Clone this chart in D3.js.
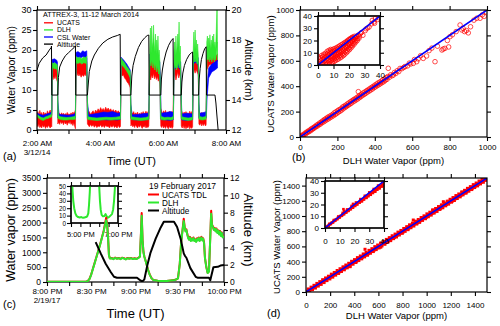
<!DOCTYPE html>
<html>
<head>
<meta charset="utf-8">
<script src="https://cdn.jsdelivr.net/npm/d3@7/dist/d3.min.js"></script>
<style>
html,body{margin:0;padding:0;background:#fff;}
svg{display:block;}
</style>
</head>
<body>
<svg id="chart" width="500" height="326"></svg>
<script>
// ================= DATA =================
// Panel (a) ATTREX-3 time series: [hour UT, low, high] in ppm
const aUCATS = [
[2.00,1.2,4.0],[2.03,0.8,4.6],[2.06,1.5,3.6],[2.09,0.6,4.9],[2.12,1.0,3.8],[2.15,0.5,4.4],[2.18,1.3,3.5],[2.21,0.7,4.5],[2.24,1.1,3.9],[2.27,0.4,4.3],[2.30,1.0,3.7],[2.33,0.6,4.8],[2.36,1.2,4.0],[2.39,0.8,4.6],[2.42,0.5,5.0],[2.45,1.0,4.2],[2.47,0.8,5.2],
[2.48,13.0,16.8],[2.51,12.6,16.0],[2.54,13.4,15.8],[2.57,12.8,16.4],[2.60,13.6,15.6],[2.63,12.4,16.2],[2.65,12.0,15.0],
[2.66,1.5,6.0],[2.69,2.0,4.4],[2.72,1.4,4.0],[2.75,2.2,3.8],[2.78,1.6,4.3],[2.81,2.0,3.9],[2.84,1.3,4.2],[2.87,2.1,3.7],[2.90,1.5,4.1],[2.93,1.9,3.8],[2.96,1.2,4.4],[2.99,2.0,3.9],[3.02,1.6,4.0],[3.05,2.2,3.8],[3.08,1.4,4.3],[3.11,1.8,3.9],[3.14,1.1,4.5],[3.17,1.9,4.0],[3.20,0.8,4.6],[3.22,0.3,5.0],
[3.24,14.5,17.8],[3.27,13.6,17.2],[3.30,14.2,16.8],[3.33,13.5,17.4],[3.36,14.0,16.6],[3.40,13.2,17.0],[3.44,13.8,16.5],[3.48,13.4,17.2],[3.52,14.0,16.8],[3.56,13.5,17.5],[3.58,14.5,17.0],
[3.60,1.5,6.0],[3.63,1.2,4.2],[3.66,0.8,4.6],[3.70,1.4,3.9],[3.74,0.9,4.4],[3.78,1.3,4.8],[3.82,0.7,4.1],[3.86,1.2,5.0],[3.90,0.6,4.5],[3.94,1.0,5.3],[3.98,0.8,4.7],[4.02,1.3,5.6],[4.06,0.7,4.9],[4.10,1.1,5.4],[4.14,0.6,4.8],[4.18,1.2,5.7],[4.22,0.8,5.0],[4.26,1.0,5.5],[4.30,0.5,4.9],[4.34,1.1,5.3],[4.38,0.7,4.6],[4.42,1.2,5.1],[4.46,0.6,4.5],[4.50,1.0,5.0],[4.54,0.5,4.4],[4.58,1.1,4.8],[4.62,0.6,4.3],[4.65,0.9,4.6],
[4.67,14.0,17.2],[4.70,13.5,16.6],[4.74,13.8,16.2],[4.78,13.0,15.8],[4.82,12.6,15.2],[4.86,12.0,14.8],[4.90,11.6,14.2],[4.94,11.0,13.6],[4.96,10.5,13.0],
[4.98,1.0,5.5],[5.01,1.4,4.4],[5.04,0.8,4.0],[5.07,1.2,4.6],[5.10,0.6,3.8],[5.13,1.3,4.3],[5.16,0.9,3.9],[5.19,0.5,4.5],[5.22,1.1,3.7],[5.25,0.7,4.2],[5.28,1.3,3.8],[5.31,0.8,4.4],[5.34,0.4,4.0],[5.37,1.0,4.6],[5.40,0.7,3.9],[5.43,1.2,4.3],[5.46,0.5,4.7],[5.49,0.9,4.0],[5.52,0.6,4.5],[5.55,1.0,5.0],
[5.58,13.5,17.5],[5.61,12.5,16.5],[5.64,13.8,18.2],[5.67,13.0,16.8],[5.70,14.2,17.6],[5.73,12.8,16.2],[5.76,13.6,17.8],[5.79,12.6,16.6],[5.82,13.4,17.2],[5.85,12.2,15.8],[5.88,13.0,16.4],[5.90,11.5,15.0],
[5.93,1.0,5.5],[5.96,0.6,4.6],[5.99,1.2,4.0],[6.02,0.5,4.8],[6.05,1.0,4.2],[6.08,0.4,4.9],[6.11,1.1,3.9],[6.14,0.6,4.5],[6.17,0.3,4.1],[6.20,1.0,4.7],[6.23,0.5,4.0],[6.26,0.9,4.6],[6.29,0.4,4.2],[6.32,0.8,4.8],
[6.35,13.0,16.5],[6.38,14.0,17.5],[6.41,12.5,16.0],[6.44,13.5,17.8],[6.47,14.5,18.0],[6.50,13.0,16.8],[6.53,14.0,17.2],[6.56,13.0,16.0],
[6.58,1.0,5.0],[6.61,0.5,4.4],[6.64,1.2,3.8],[6.67,0.4,4.5],[6.70,1.0,4.0],[6.73,0.3,4.6],[6.76,0.9,3.9],[6.79,0.5,4.3],[6.82,1.1,4.0],[6.85,0.3,4.7],[6.88,0.8,4.1],[6.91,0.4,4.5],[6.94,0.8,4.9],
[6.96,14.5,17.8],[6.99,15.0,18.0],[7.02,14.2,17.5],[7.05,15.2,18.2],[7.08,14.5,17.6],[7.11,14.0,17.0],[7.12,13.5,16.5],
[7.14,1.5,5.0],[7.17,1.2,4.2],[7.20,1.8,3.9],[7.23,1.0,4.4],[7.26,1.6,3.8],[7.29,1.1,4.3],[7.32,1.7,4.0],[7.35,1.0,4.5],[7.37,1.4,4.2],
[7.39,15.0,17.5],[7.45,16.0,18.0],[7.50,16.5,18.5],[7.55,16.0,18.2],[7.60,16.8,18.6],[7.65,16.5,18.4],[7.70,17.0,18.8],[7.73,17.2,19.0]
];
const aDLH = [
[2.00,3.3,3.9],[2.05,3.0,3.6],[2.10,2.7,3.3],[2.15,2.5,3.1],[2.20,2.4,3.0],[2.25,2.6,3.2],[2.30,2.8,3.4],[2.35,2.9,3.5],[2.40,3.1,3.7],[2.45,3.2,3.9],[2.47,3.5,4.5],
[2.48,15.0,16.8],[2.52,15.6,16.6],[2.56,15.2,16.9],[2.60,15.4,16.5],[2.64,15.0,16.4],[2.65,14.0,16.0],
[2.66,3.0,8.0],[2.68,2.8,3.6],[2.75,2.6,3.3],[2.85,2.5,3.2],[2.95,2.5,3.1],[3.05,2.6,3.2],[3.15,2.6,3.3],[3.22,2.7,3.5],
[3.24,16.8,18.4],[3.30,16.6,18.0],[3.36,16.9,18.2],[3.42,16.5,17.8],[3.48,16.8,18.3],[3.54,16.7,18.0],[3.58,16.5,18.5],
[3.60,2.8,8.0],[3.62,2.6,3.3],[3.75,2.5,3.1],[3.90,2.4,3.0],[4.05,2.5,3.1],[4.20,2.6,3.2],[4.35,2.5,3.1],[4.50,2.6,3.2],[4.65,2.7,3.4],
[4.67,16.5,18.0],[4.72,16.0,17.4],[4.78,15.5,16.8],[4.84,14.8,16.0],[4.90,14.0,15.4],[4.96,13.0,14.6],
[4.98,2.8,7.0],[5.00,2.6,3.3],[5.15,2.5,3.1],[5.30,2.4,3.0],[5.45,2.5,3.1],[5.55,2.6,3.4],
[5.58,16.0,20.0],[5.60,17.0,25.5],[5.62,16.0,19.0],[5.64,17.5,26.0],[5.66,16.5,20.5],[5.68,15.5,22.0],[5.70,17.0,26.2],[5.72,16.0,19.5],[5.74,15.0,21.5],[5.76,16.5,24.0],[5.78,15.5,19.0],[5.80,14.5,22.5],[5.82,16.0,19.5],[5.84,15.0,23.5],[5.86,14.0,18.5],[5.88,15.0,20.0],[5.90,13.5,17.0],
[5.92,2.8,8.0],[5.94,2.6,3.4],[6.05,2.5,3.1],[6.15,2.6,3.2],[6.25,2.5,3.1],[6.33,2.7,3.4],
[6.35,15.0,19.5],[6.37,16.5,22.0],[6.39,15.5,18.5],[6.41,16.0,23.5],[6.43,15.0,19.0],[6.45,16.5,21.0],[6.47,15.5,24.0],[6.49,17.0,20.5],[6.51,16.0,27.0],[6.53,15.5,19.0],[6.55,16.0,21.0],[6.56,14.0,17.0],
[6.58,2.8,7.0],[6.60,2.6,3.3],[6.70,2.5,3.1],[6.80,2.4,3.0],[6.90,2.5,3.1],[6.94,2.6,3.3],
[6.96,16.0,20.0],[6.98,17.5,24.5],[7.00,17.0,19.5],[7.02,18.0,25.0],[7.04,17.0,20.0],[7.06,17.5,22.5],[7.08,16.5,19.0],[7.10,17.0,21.5],[7.12,16.0,18.5],
[7.14,2.8,6.0],[7.16,2.6,3.4],[7.25,2.5,3.2],[7.32,2.6,3.3],[7.37,2.7,3.5],
[7.39,17.0,22.0],[7.41,18.0,23.5],[7.43,17.5,20.5],[7.45,18.0,23.0],[7.47,17.0,21.0],[7.49,18.5,23.8],[7.51,17.5,20.0],[7.53,18.0,22.5],[7.55,17.0,20.5],[7.57,18.0,23.5],[7.59,17.5,21.0],[7.61,18.5,24.0],[7.63,17.0,20.5],[7.65,18.0,22.0],[7.67,17.5,20.0],[7.69,18.5,24.5],[7.71,20.0,30.0],[7.72,22.0,30.0],[7.73,17.5,20.0]
];
const aCSL = [
[2.00,3.5,4.2],[2.10,3.2,3.9],[2.20,3.0,3.7],[2.30,3.3,4.0],[2.40,3.5,4.2],[2.47,3.8,4.6],
[2.48,16.5,17.6],[2.55,16.8,17.8],[2.62,16.5,17.5],[2.65,15.5,17.0],
[2.66,3.0,7.5],[2.70,2.9,3.9],[2.85,2.8,3.8],[3.00,2.8,3.7],[3.15,2.9,3.9],[3.22,3.0,4.2],
[3.24,18.0,19.4],[3.30,18.2,19.6],[3.38,18.0,19.2],[3.45,18.3,19.8],[3.52,18.1,19.5],[3.58,18.0,19.8],
[3.60,3.0,7.0],[3.65,2.7,3.8],[3.80,2.6,4.0],[3.95,2.5,4.2],[4.10,2.6,4.5],[4.25,2.5,4.4],[4.40,2.6,4.6],[4.55,2.5,4.2],[4.65,2.7,4.3],
[4.67,17.0,18.2],[4.75,16.5,17.5],[4.85,15.5,16.5],[4.96,13.5,15.0],
[4.98,3.0,6.5],[5.02,2.6,3.8],[5.20,2.5,3.9],[5.40,2.5,4.1],[5.55,2.7,4.2],
[5.58,17.0,19.0],[5.70,17.5,19.5],[5.80,16.0,18.5],[5.90,14.5,17.0],
[5.92,3.0,12.0],[5.94,2.6,4.2],[6.10,2.5,4.4],[6.25,2.4,4.6],[6.33,2.6,4.3],
[6.35,15.0,17.5],[6.45,16.0,18.0],[6.56,15.0,17.0],
[6.58,3.0,8.0],[6.60,2.5,4.0],[6.75,2.4,4.2],[6.94,2.6,4.0],
[6.96,16.5,18.5],[7.05,17.0,19.0],[7.12,16.0,18.0],
[7.14,3.0,7.0],[7.16,2.8,4.2],[7.30,2.8,4.4],[7.37,3.0,4.6],
[7.38,4.0,9.0],[7.40,8.0,11.5],[7.45,13.0,15.5],[7.55,14.5,16.5],[7.65,15.0,17.0],[7.73,15.5,17.5]
];
// altitude [hour, km]
const aAltitude = [
[2.00,16.0],[2.07,16.45],[2.18,16.8],[2.29,17.0],[2.39,17.33],[2.45,17.5],[2.46,17.6],[2.47,14.33],[2.66,14.33],
[2.68,15.5],[2.72,16.2],[2.80,16.6],[2.90,16.95],[3.00,17.15],[3.10,17.35],[3.18,17.5],[3.22,17.6],[3.23,14.33],[3.60,14.33],
[3.66,15.9],[3.74,16.6],[3.82,17.0],[3.95,17.45],[4.09,17.8],[4.25,18.05],[4.40,18.2],[4.55,18.3],[4.64,18.38],[4.65,14.33],[4.98,14.33],
[5.01,15.6],[5.05,16.3],[5.12,16.9],[5.22,17.5],[5.32,17.9],[5.42,18.15],[5.50,18.3],[5.55,18.33],[5.56,14.33],[5.93,14.33],
[5.95,15.4],[5.98,16.0],[6.03,16.6],[6.10,17.2],[6.18,17.65],[6.26,17.95],[6.32,18.1],[6.33,14.33],[6.58,14.33],
[6.60,15.2],[6.63,15.8],[6.68,16.3],[6.75,16.7],[6.83,17.0],[6.90,17.15],[6.94,17.2],[6.95,14.33],[7.13,14.33],
[7.15,15.4],[7.18,16.1],[7.22,16.7],[7.27,17.1],[7.32,17.4],[7.37,17.55],[7.38,14.33],[7.65,14.33],
[7.68,13.8],[7.71,13.0],[7.75,12.0]
];
const aHourTicks = [2,3,4,5,6,7,8];
const aHourLabels = ["2:00 AM","","4:00 AM","","6:00 AM","","8:00 AM"];
const aDateLabel = "3/12/14";
const aWaterTicks = [0,5,10,15,20,25,30];
const aAltTicks = [12,14,16,18,20];
const aLegendNames = ["UCATS","DLH","CSL Water","Altitude"];
const aTitle = "ATTREX-3,  11-12 March 2014";

// Panel (b) scatter: [DLH, UCATS] ppm
const bMain = [
[2,4],[6,1],[10,12],[14,8],[18,20],[22,17],[27,30],[31,25],[35,38],[40,36],[44,47],[48,42],[53,55],[57,50],[61,65],[66,60],[70,73],[74,68],[79,82],[83,78],[88,92],[92,85],[96,100],[101,95],[105,110],[109,102],[114,118],[118,112],[122,128],[127,120],[131,138],[135,128],[140,146],[144,136],[148,155],[153,144],[157,162],[161,152],[166,170],[170,160],[175,178],[179,168],[183,190],[188,177],[192,198],[196,185],[201,207],[205,195],[209,215],[214,203],[218,222],[222,212],[227,235],[231,222],[235,242],[240,232],[244,250],[248,240],[253,260],[257,249],[261,268],[266,258],[270,278],[274,266],[279,286],[283,276],[287,295],[292,284],[296,302],[300,292],[305,312],[309,300],[312,357],[314,320],[318,310],[322,330],[326,318],[331,338],[335,328],[339,348],[344,336],[348,356],[352,344],[357,365],[361,354],[365,372],[370,362],[374,382],[378,370],[383,390],[387,378],[391,398],[396,388],[400,408],[404,396],[409,416],[413,404],[417,425],[422,412],[426,432],[430,420],[435,440],[439,428],[443,450],[448,436],[452,458],[456,446],[461,468],[465,454],[472,541],[470,476],[478,470],[485,490],[492,482],[499,488],[505,508],[512,500],[520,522],[528,515],[535,540],[545,538],[555,548],[562,555],[575,560],[585,582],[592,575],[606,580],[612,610],[624,593],[632,615],[645,640],[659,619],[677,638],[690,680],[705,700],[722,593],[735,715],[759,685],[766,693],[775,698],[788,760],[795,709],[802,790],[815,805],[835,830],[856,882],[865,843],[872,855],[880,830],[890,838],[900,820],[912,868],[930,920],[945,935],[963,935],[975,962],[985,950],[995,985]
];
const bInset = [
[0.3,0.5],[0.8,2.5],[1.2,4.8],[0.5,6.5],[1.5,1.2],[2,3.5],[2.3,7.8],[1.8,5.8],[2.8,0.4],[3,2.2],[3.3,4.5],[2.9,6.6],[3.6,8.8],[3.9,1.0],[4.2,3.3],[4.4,5.6],[4.0,7.4],[4.8,9.6],[5.0,0.3],[5.3,2.4],[5.5,4.6],[5.2,6.9],[5.7,8.7],[5.9,11.2],[6.3,1.4],[6.5,3.6],[6.1,5.8],[6.8,7.9],[6.6,10.0],[7.0,12.0],[7.4,0.8],[7.5,2.9],[7.2,5.0],[7.8,7.1],[7.6,9.2],[8.0,11.3],[8.2,12.8],[8.5,1.6],[8.7,3.8],[8.4,6.0],[8.9,8.1],[8.6,10.3],[9.1,12.4],[9.4,2.2],[9.6,4.4],[9.3,6.6],[9.8,8.8],[9.5,10.9],[10.0,13.1],[10.4,2.8],[10.6,5.0],[10.2,7.2],[10.8,9.3],[10.5,11.5],[11.0,13.6],[11.3,3.6],[11.6,5.7],[11.2,7.9],[11.8,10.0],[11.5,12.2],[12.0,14.2],[12.4,4.3],[12.6,6.5],[12.2,8.6],[12.8,10.8],[12.5,12.9],[13.0,15.0],[13.3,5.0],[13.6,7.2],[13.2,9.4],[13.8,11.5],[13.5,13.6],[14.0,15.8],[14.4,5.8],[14.6,8.0],[14.2,10.2],[14.8,12.3],[14.5,14.4],[15.0,16.6],[15.3,6.6],[15.6,8.8],[15.2,11.0],[15.8,13.1],[15.5,15.2],[16.0,17.3],[16.4,7.6],[16.6,9.8],[16.2,12.0],[16.8,14.1],[16.5,16.2],[17.0,18.2],[17.3,8.7],[17.6,10.9],[17.2,13.0],[17.8,15.1],[17.5,17.2],[18.0,19.0],[18.4,10.0],[18.6,12.1],[18.2,14.2],[18.8,16.3],[18.5,18.4],[19.0,20.0],[19.3,11.2],[19.6,13.3],[19.2,15.4],[19.8,17.5],[19.5,19.5],[20.0,21.0],[20.4,12.6],[20.6,14.7],[20.2,16.7],[20.8,18.7],[20.5,20.6],[21.0,21.8],[21.4,14.0],[21.6,16.0],[21.2,18.0],[21.8,19.9],[21.5,21.6],[22.0,22.6],[22.4,15.5],[22.6,17.5],[22.2,19.4],[22.8,21.2],[22.5,22.8],[23.4,17.0],[23.6,19.0],[23.2,20.8],[23.8,22.4],[23.5,23.5],[24.4,18.6],[24.6,20.4],[24.2,22.0],[24.8,23.6],[25.4,20.0],[25.6,21.8],[25.2,23.3],[26.0,24.5],[26.5,21.8],[26.8,23.5],[27.5,25.8],[28.0,26.5],[29.0,24.2],[30.5,28.0],[31.0,29.5],[32.0,30.2],[33.0,31.0],[34.5,33.5],[35.0,36.5],[36.0,35.0],[36.5,34.0],[37.0,38.0],[38.5,37.0],[39.0,38.6]
];
const bOneToOne = [0,1000];
const bInsetOneToOne = [0,40];
const bTicks = [0,200,400,600,800,1000];
const bInsetTicks = [0,10,20,30,40];

// Panel (c) 19 Feb 2017: [hour UT, UCATS TDL, DLH] ppm
const cWater = [
[20.00,5,5],[20.15,6,5],[20.30,8,8],[20.44,12,10],[20.46,32,30],[20.48,105,100],[20.50,260,250],[20.52,460,450],[20.54,660,650],[20.56,860,850],[20.58,1060,1050],[20.60,1260,1250],[20.62,1490,1480],[20.64,1720,1700],[20.655,1950,1900],[20.668,2160,2080],[20.68,1950,1900],[20.69,1520,1500],[20.70,910,900],[20.71,800,790],[20.73,810,800],[20.75,780,770],[20.77,820,810],[20.79,790,780],[20.81,810,800],[20.83,780,770],[20.85,820,810],[20.87,800,790],[20.89,770,760],[20.91,810,800],[20.93,790,780],[20.95,810,800],[20.97,780,770],[20.99,800,790],[21.01,780,770],[21.03,810,800],[21.05,860,850],[21.06,1520,1500],[21.07,2320,2230],[21.08,1420,1400],[21.09,1010,1000],[21.10,860,850],[21.12,660,650],[21.14,430,420],[21.16,255,250],[21.18,135,130],[21.20,72,70],[21.25,42,40],[21.30,32,30],[21.35,32,30],[21.40,52,50],[21.45,72,70],[21.48,125,120],[21.50,610,600],[21.515,1320,1300],[21.53,1720,1700],[21.545,2130,2050],[21.555,1870,1850],[21.565,1720,1700],[21.575,1770,1750],[21.585,1620,1600],[21.595,1500,1480],[21.605,1440,1420],[21.615,1520,1500],[21.625,1400,1380],[21.635,1470,1450],[21.645,1420,1400],[21.655,1500,1480],[21.665,1400,1380],[21.675,1440,1420],[21.685,1370,1350],[21.695,1470,1450],[21.705,1420,1400],[21.715,1500,1480],[21.725,1400,1380],[21.735,1470,1450],[21.745,1520,1500],[21.755,1420,1400],[21.765,1470,1450],[21.775,1320,1300],[21.785,810,800],[21.80,510,500],[21.815,310,300],[21.83,360,350],[21.845,1520,1500],[21.855,2400,2300],[21.865,1930,1900],[21.875,1870,1850],[21.885,1770,1750],[21.895,1820,1800],[21.905,1720,1700],[21.915,1800,1780],[21.925,1670,1650],[21.935,1740,1720],[21.945,1620,1600],[21.955,1720,1700],[21.965,1570,1550],[21.975,1670,1650],[21.985,1520,1500],[22.00,1570,1550]
];
const cAltitude = [
[20.55,4.6],[20.607,3.3],[20.663,2.1],[20.72,1.15],[20.757,0.6],[20.79,0.5],[20.90,0.5],[21.017,0.5],[21.06,0.15],[21.08,0.08],[21.10,0.3],[21.133,1.9],[21.17,3.4],[21.228,5.0],[21.285,6.3],[21.32,6.95],[21.435,6.95],[21.47,6.35],[21.51,5.0],[21.545,3.3],[21.56,3.0],[21.575,2.8],[21.62,1.6],[21.68,0.6],[21.70,0.5],[21.83,0.5],[21.845,0.2],[21.88,1.7],[21.93,1.75],[21.96,1.9],[22.00,1.95]
];
// inset (c): [hour, DLH ppm]
const cInset = [
[16.55,60],[16.58,45],[16.62,30],[16.67,20],[16.73,13],[16.80,9.5],[16.88,8],[16.96,7.5],[17.05,8],[17.14,7],[17.22,7.5],[17.30,8],[17.36,9],[17.42,13],[17.46,25],[17.50,42],[17.53,60],[17.98,60],[18.01,45],[18.04,30],[18.08,18],[18.13,11],[18.20,9],[18.28,9.5],[18.34,12],[18.38,10],[18.44,7],[18.52,8],[18.60,10],[18.68,12],[18.74,18],[18.79,30],[18.83,45],[18.86,60]
];
const cTimeTicks = [20,20.25,20.5,20.75,21,21.25,21.5,21.75,22];
const cTimeLabels = ["8:00 PM","","8:30 PM","","9:00 PM","","9:30 PM","","10:00 PM"];
const cDateLabel = "2/19/17";
const cWaterTicks = [0,500,1000,1500,2000,2500,3000,3500];
const cAltTicks = [0,2,4,6,8,10,12];
const cInsetTimeTicks = [16.5,17,17.5,18,18.5,19];
const cInsetTimeLabels = ["","5:00 PM","","","","7:00 PM"];
const cInsetTicks = [0,10,20,30,40,50];
const cLegendNames = ["UCATS TDL","DLH","Altitude"];
const cTitle = "19 February 2017";

// Panel (d) scatter: [DLH, UCATS] ppm
const dMain = [
[2,3],[12,9],[24,28],[36,30],[48,51],[60,58],[72,79],[84,79],[96,98],[108,100],[120,126],[132,131],[144,153],[156,149],[168,172],[180,176],[192,202],[204,195],[216,219],[228,222],[240,252],[252,249],[264,269],[276,265],[288,296],[300,298],[312,326],[324,316],[336,342],[348,335],[360,369],[365,333],[372,368],[384,395],[396,389],[408,410],[420,405],[432,445],[444,439],[456,463],[468,458],[480,495],[489,562],[492,486],[504,508],[516,504],[528,538],[540,537],[552,560],[564,550],[576,588],[588,579],[600,605],[612,596],[620,590],[624,638],[636,634],[648,657],[660,649],[672,678],[684,671],[696,712],[708,701],[720,723],[732,717],[744,755],[756,748],[768,781],[780,775],[792,799],[804,787],[816,826],[828,824],[840,855],[852,840],[864,872],[876,867],[888,900],[889,947],[900,894],[912,926],[924,910],[936,942],[948,938],[960,977],[972,969],[984,993],[996,980],[1008,1019],[1020,1013],[1032,1045],[1044,1033],[1050,1080],[1056,1061],[1068,1055],[1080,1096],[1092,1084],[1104,1114],[1116,1101],[1128,1142],[1138,1188],[1140,1136],[1152,1164],[1164,1152],[1176,1194],[1188,1182],[1200,1209],[1212,1195],[1224,1237],[1236,1226],[1248,1263],[1260,1255],[1272,1283],[1284,1270],[1296,1313],[1308,1299],[1320,1328],[1332,1316],[1344,1358],[1356,1349],[1368,1380],[1380,1367],[1392,1408],[1404,1394],[1416,1426],[1428,1416],[1440,1453],[1452,1444],[1464,1473],[1476,1470],[1488,1495],[1498,1493],
[18,40],[30,8],[42,64],[54,30],[66,88],[78,52],[90,113],[102,78],[114,136],[126,100],[138,162],[150,124],[162,185],[174,150],[186,208],[198,172],[210,235],[222,196],[234,257],[246,222],[258,283],[270,244],[282,306],[294,270],[306,330],[318,292],[330,355],[342,318],[354,378],[366,340],[378,404],[390,366],[402,426],[414,388],[426,452],[438,414],[450,474],[462,436],[474,500],[486,462],[498,522],[510,484],[522,548],[534,510],[546,570],[558,532],[570,596],[582,558],[594,618],[606,580],[618,644],[630,606],[642,666],[654,628],[666,692],[678,654],[690,714],[702,676],[714,740],[726,702],[738,762],[750,724],[762,788],[774,750],[786,810],[798,772],[810,836],[822,798],[834,858],[846,820],[858,884],[870,846],[882,906],[894,868],[906,932],[918,894],[930,954],[942,916],[954,980],[966,942],[978,1002],[990,964],[1002,1028],[1014,990],[1026,1050],[1038,1012],[1050,1076],[1062,1038],[1074,1098],[1086,1060],[1098,1124],[1110,1086],[1122,1146],[1134,1108],[1146,1172],[1158,1134],[1170,1194],[1182,1156],[1194,1220],[1206,1182],[1218,1242],[1230,1204],[1242,1268],[1254,1230],[1266,1290],[1278,1252],[1290,1316],[1302,1278],[1314,1338],[1326,1300],[1338,1364],[1350,1326],[1362,1386],[1374,1348],[1386,1412],[1398,1374],[1410,1434],[1422,1396],[1434,1460],[1446,1422],[1458,1482],[1470,1444],[1482,1506],[1494,1470]
];
const dInset = [
[0.5,0.4],[1.2,1.3],[2,1.8],[2.8,2.9],[3.5,3.2],[4.3,4.4],[5,4.7],[5.8,5.9],[6.5,6.1],[7.3,7.3],[8,7.6],[8.8,8.8],[9.5,9.0],[10.3,10.2],[11,10.4],[11.8,11.6],[12.5,11.8],[12.5,16],[13.3,13.0],[13,14.5],[14,13.3],[14.8,14.4],[15.5,14.6],[16.3,15.9],[17,16.1],[17.8,17.3],[18.5,17.4],[19,20.5],[19.3,18.7],[20,18.9],[20.8,20.1],[21.5,20.2],[22.3,21.5],[23,21.7],[23.8,22.9],[24.5,23.0],[25,23],[25.3,24.4],[26,24.4],[26.8,25.8],[27.5,25.9],[28,25.8],[28.3,27.2],[29,27.3],[29.8,28.6],[30.5,28.6],[31,28.5],[31.3,30.1],[32,30.0],[32.8,31.5],[33.5,31.4],[34,31.2],[34.3,33.0],[35,32.8],[35.8,34.4],[36.5,34.2],[37,34],[37.3,35.8],[38,35.6],[38.8,37.3],[39,36],[39.5,37.0],[39.8,38.2],
[1,0.5],[2.5,2.0],[4,3.5],[5.5,4.8],[7,6.2],[8.5,7.6],[10,9.0],[11.5,10.4],[13,11.8],[14.5,13.2],[16,14.6],[17.5,16.0],[19,17.3],[20.5,18.8],[22,20.1],[23.5,21.6],[25,22.8],[26.5,24.3],[28,25.6],[29.5,27.1],[31,28.3],[32.5,29.8],[34,31.0],[35.5,32.6],[37,33.8],[38.5,35.3],[40,36.5],
[3,3.6],[6,6.8],[9,9.8],[12,12.9],[15,15.8],[18,18.8],[21,21.7],[24,24.6],[27,27.4],[30,30.3],[33,33.2],[36,36.1],[39,38.9]
];
const dOneToOne = [0,1500];
const dInsetOneToOne = [0,40];
const dTicks = [0,200,400,600,800,1000,1200,1400];
const dInsetTicks = [0,10,20,30,40];

const panelLabels = ["(a)","(b)","(c)","(d)"];

// ================= DRAWING =================
const svg = d3.select("#chart");
const FONT = "'Liberation Sans', Arial, Helvetica, sans-serif";
const RED = "#ff0000", GREEN = "#2ee82e", BLUE = "#0000ff", BLACK = "#000";

function clip(id, x0, y0, x1, y1) {
  svg.append("clipPath").attr("id", id).append("rect")
    .attr("x", x0).attr("y", y0).attr("width", x1 - x0).attr("height", y1 - y0);
  return "url(#" + id + ")";
}
function frame(x0, y0, x1, y1, fill) {
  svg.append("rect").attr("x", x0).attr("y", y0).attr("width", x1 - x0).attr("height", y1 - y0)
    .attr("fill", fill || "none").attr("stroke", BLACK).attr("stroke-width", 1.2);
}
function axis(gen, scale, vals, labels, pos, opt) {
  opt = opt || {};
  const a = gen(scale).tickValues(vals).tickSize(opt.size || 4).tickSizeOuter(0)
    .tickFormat((d, i) => labels ? labels[i] : "");
  const g = svg.append("g").attr("transform", pos).call(a);
  g.select(".domain").remove();
  g.selectAll(".tick line").attr("stroke", BLACK).attr("stroke-width", 1.1);
  g.selectAll(".tick text").attr("font-family", FONT).attr("font-size", opt.fs || 8).attr("fill", BLACK);
  if (opt.textY != null) g.selectAll(".tick text").attr("y", opt.textY).attr("dy", 0);
  if (opt.textX != null) g.selectAll(".tick text").attr("x", opt.textX);
  return g;
}
function text(str, x, y, fs, opt) {
  opt = opt || {};
  const t = svg.append("text").attr("x", x).attr("y", y).attr("font-family", FONT)
    .attr("font-size", fs).attr("fill", BLACK).attr("text-anchor", opt.anchor || "start").text(str);
  if (opt.rotate != null) t.attr("transform", `rotate(${opt.rotate},${x},${y})`);
  return t;
}
const fmt = v => String(v);

// ---------- Panel (a) ----------
const xA = d3.scaleLinear().domain([2, 8]).range([37, 226]);
const yA = d3.scaleLinear().domain([0, 30]).range([130, 10]);
const yA2 = d3.scaleLinear().domain([12, 20]).range([130, 10]);
const gA = svg.append("g").attr("clip-path", clip("clipA", 37, 10, 226, 130));
const areaA = d3.area().x(d => xA(d[0])).y0(d => yA(d[1])).y1(d => yA(d[2]));
[[aUCATS, RED], [aCSL, BLUE], [aDLH, GREEN]].forEach(([data, col]) => {
  gA.append("path").datum(data).attr("d", areaA).attr("fill", col)
    .attr("stroke", col).attr("stroke-width", 0.6).attr("stroke-linejoin", "round");
});
gA.append("path").datum(aAltitude)
  .attr("d", d3.line().x(d => xA(d[0])).y(d => yA2(d[1])))
  .attr("fill", "none").attr("stroke", BLACK).attr("stroke-width", 1);
frame(37, 10, 226, 130);
axis(d3.axisBottom, xA, aHourTicks, aHourLabels, "translate(0,130)", { fs: 8, textY: 15.5 });
axis(d3.axisTop, xA, aHourTicks, null, "translate(0,10)");
axis(d3.axisLeft, yA, aWaterTicks, aWaterTicks.map(fmt), "translate(37,0)", { fs: 9, textX: -5.5 });
axis(d3.axisRight, yA2, aAltTicks, aAltTicks.map(fmt), "translate(226,0)", { fs: 9, textX: 5.5 });
text(aDateLabel, xA(2), 155, 8, { anchor: "middle" });
text("Time (UT)", 131.5, 165, 11, { anchor: "middle" });
text("Water Vapor (ppm)", 15, 70, 10.5, { anchor: "middle", rotate: -90 });
text("Altitude (km)", 245, 70, 11, { anchor: "middle", rotate: 90 });
text(panelLabels[0], 3, 160, 11);
// legend (a)
text(aTitle, 43, 16.8, 7.2);
const aLegCols = [RED, GREEN, BLUE, BLACK];
aLegendNames.forEach((name, i) => {
  const y = 22.8 + i * 7.1;
  svg.append("line").attr("x1", 44).attr("x2", 53).attr("y1", y).attr("y2", y)
    .attr("stroke", aLegCols[i]).attr("stroke-width", 1.3);
  text(name, 57, y + 2.5, 6.9);
});

// ---------- Panel (b) ----------
const xB = d3.scaleLinear().domain([0, 1000]).range([300, 487]);
const yB = d3.scaleLinear().domain([0, 1000]).range([137, 10]);
const gB = svg.append("g").attr("clip-path", clip("clipB", 300, 10, 487, 137));
gB.selectAll("circle").data(bMain).join("circle")
  .attr("cx", d => xB(d[0])).attr("cy", d => yB(d[1])).attr("r", 2.3)
  .attr("fill", "none").attr("stroke", RED).attr("stroke-width", 0.7);
gB.append("line").attr("x1", xB(bOneToOne[0])).attr("y1", yB(bOneToOne[0]))
  .attr("x2", xB(bOneToOne[1])).attr("y2", yB(bOneToOne[1]))
  .attr("stroke", BLUE).attr("stroke-width", 1.6);
frame(300, 10, 487, 137);
axis(d3.axisBottom, xB, bTicks, bTicks.map(fmt), "translate(0,137)", { fs: 8, textY: 13 });
axis(d3.axisTop, xB, bTicks, null, "translate(0,10)");
axis(d3.axisLeft, yB, bTicks, bTicks.map(fmt), "translate(300,0)", { fs: 8, textX: -6 });
axis(d3.axisRight, yB, bTicks, null, "translate(487,0)");
text("DLH Water Vapor (ppm)", 393.5, 164, 9.5, { anchor: "middle" });
text("UCATS Water Vapor (ppm)", 274, 74, 9.8, { anchor: "middle", rotate: -90 });
text(panelLabels[1], 292, 161, 11);
// inset (b)
const xBi = d3.scaleLinear().domain([0, 40]).range([318, 380]);
const yBi = d3.scaleLinear().domain([0, 40]).range([65, 16]);
frame(318, 16, 380, 65, "#fff");
const gBi = svg.append("g").attr("clip-path", clip("clipBi", 318, 16, 380, 65));
gBi.selectAll("circle").data(bInset).join("circle")
  .attr("cx", d => xBi(d[0])).attr("cy", d => yBi(d[1])).attr("r", 2.2)
  .attr("fill", "none").attr("stroke", RED).attr("stroke-width", 0.7);
gBi.append("line").attr("x1", xBi(bInsetOneToOne[0])).attr("y1", yBi(bInsetOneToOne[0]))
  .attr("x2", xBi(bInsetOneToOne[1])).attr("y2", yBi(bInsetOneToOne[1]))
  .attr("stroke", BLUE).attr("stroke-width", 1.6);
frame(318, 16, 380, 65);
axis(d3.axisBottom, xBi, bInsetTicks, bInsetTicks.map(fmt), "translate(0,65)", { fs: 8, textY: 13 });
axis(d3.axisTop, xBi, bInsetTicks, null, "translate(0,16)");
axis(d3.axisLeft, yBi, bInsetTicks, bInsetTicks.map(fmt), "translate(318,0)", { fs: 8, textX: -6 });
axis(d3.axisRight, yBi, bInsetTicks, null, "translate(380,0)");

// ---------- Panel (c) ----------
const xC = d3.scaleLinear().domain([20, 22]).range([47, 224]);
const yC = d3.scaleLinear().domain([0, 3500]).range([282, 178]);
const yC2 = d3.scaleLinear().domain([0, 12]).range([282, 178]);
frame(47, 178, 224, 282);
axis(d3.axisBottom, xC, cTimeTicks, cTimeLabels, "translate(0,282)", { fs: 8, textY: 12 });
axis(d3.axisTop, xC, cTimeTicks, null, "translate(0,178)");
axis(d3.axisLeft, yC, cWaterTicks, cWaterTicks.map(fmt), "translate(47,0)", { fs: 8.5, textX: -6 });
axis(d3.axisRight, yC2, cAltTicks, cAltTicks.map(fmt), "translate(224,0)", { fs: 8.5, textX: 6 });
text(cDateLabel, xC(20), 302.5, 8, { anchor: "middle" });
text("Time (UT)", 135.5, 318, 13, { anchor: "middle" });
text("Water vapor (ppm)", 15, 230, 12.5, { anchor: "middle", rotate: -90 });
text("Altitude (km)", 244, 230, 13, { anchor: "middle", rotate: 90 });
text(panelLabels[2], 3, 308, 11);
// inset (c)
const xCi = d3.scaleLinear().domain([16.5, 19]).range([71, 118]);
const yCi = d3.scaleLinear().domain([0, 50]).range([223, 186]);
frame(71, 186, 118, 223, "#fff");
const gCi = svg.append("g").attr("clip-path", clip("clipCi", 71, 186, 118, 223));
gCi.append("path").datum(cInset)
  .attr("d", d3.line().x(d => xCi(d[0])).y(d => yCi(d[1])))
  .attr("fill", "none").attr("stroke", GREEN).attr("stroke-width", 2).attr("stroke-linejoin", "round");
frame(71, 186, 118, 223);
axis(d3.axisBottom, xCi, cInsetTimeTicks, cInsetTimeLabels, "translate(0,223)", { fs: 7.5, textY: 14 });
axis(d3.axisTop, xCi, cInsetTimeTicks, null, "translate(0,186)");
axis(d3.axisLeft, yCi, cInsetTicks, cInsetTicks.map(fmt), "translate(71,0)", { fs: 6.3, textX: -5 });
axis(d3.axisRight, yCi, cInsetTicks, null, "translate(118,0)");
// main series (c)
const gC = svg.append("g").attr("clip-path", clip("clipC", 47, 178, 224, 282));
gC.append("path").datum(cWater)
  .attr("d", d3.line().x(d => xC(d[0])).y(d => yC(d[1])))
  .attr("fill", "none").attr("stroke", RED).attr("stroke-width", 2).attr("stroke-linejoin", "round");
gC.append("path").datum(cWater)
  .attr("d", d3.line().x(d => xC(d[0])).y(d => yC(d[2])))
  .attr("fill", "none").attr("stroke", GREEN).attr("stroke-width", 2).attr("stroke-linejoin", "round");
gC.append("path").datum(cAltitude)
  .attr("d", d3.line().x(d => xC(d[0])).y(d => yC2(d[1])))
  .attr("fill", "none").attr("stroke", BLACK).attr("stroke-width", 2).attr("stroke-linejoin", "round");
// legend (c)
text(cTitle, 149, 189, 8.5);
const cLegCols = [RED, GREEN, BLACK];
cLegendNames.forEach((name, i) => {
  const y = 194.5 + i * 8;
  svg.append("line").attr("x1", 148).attr("x2", 159).attr("y1", y).attr("y2", y)
    .attr("stroke", cLegCols[i]).attr("stroke-width", 2);
  text(name, 162, y + 3, 8.2);
});

// ---------- Panel (d) ----------
const xD = d3.scaleLinear().domain([0, 1500]).range([306, 487]);
const yD = d3.scaleLinear().domain([0, 1500]).range([292, 178]);
const gD = svg.append("g").attr("clip-path", clip("clipD", 306, 178, 487, 292));
gD.selectAll("rect").data(dMain).join("rect")
  .attr("x", d => xD(d[0]) - 1.5).attr("y", d => yD(d[1]) - 1.5)
  .attr("width", 3).attr("height", 3).attr("fill", RED);
gD.append("line").attr("x1", xD(dOneToOne[0])).attr("y1", yD(dOneToOne[0]))
  .attr("x2", xD(dOneToOne[1])).attr("y2", yD(dOneToOne[1]))
  .attr("stroke", BLUE).attr("stroke-width", 1.5);
frame(306, 178, 487, 292);
axis(d3.axisBottom, xD, dTicks, dTicks.map(fmt), "translate(0,292)", { fs: 8, textY: 16 });
axis(d3.axisTop, xD, dTicks, null, "translate(0,178)");
axis(d3.axisLeft, yD, dTicks, dTicks.map(fmt), "translate(306,0)", { fs: 8, textX: -6 });
axis(d3.axisRight, yD, dTicks, null, "translate(487,0)");
text("DLH Water Vapor (ppm)", 396.5, 319, 9.5, { anchor: "middle" });
text("UCATS Water Vapor (ppm)", 280, 237, 9.5, { anchor: "middle", rotate: -90 });
text(panelLabels[3], 267, 317, 11);
// inset (d)
const xDi = d3.scaleLinear().domain([0, 40]).range([325, 384]);
const yDi = d3.scaleLinear().domain([0, 40]).range([228, 181]);
frame(325, 181, 384, 228, "#fff");
const gDi = svg.append("g").attr("clip-path", clip("clipDi", 325, 181, 384, 228));
gDi.selectAll("rect").data(dInset).join("rect")
  .attr("x", d => xDi(d[0]) - 1.3).attr("y", d => yDi(d[1]) - 1.3)
  .attr("width", 2.6).attr("height", 2.6).attr("fill", RED);
gDi.append("line").attr("x1", xDi(dInsetOneToOne[0])).attr("y1", yDi(dInsetOneToOne[0]))
  .attr("x2", xDi(dInsetOneToOne[1])).attr("y2", yDi(dInsetOneToOne[1]))
  .attr("stroke", BLUE).attr("stroke-width", 1.5);
frame(325, 181, 384, 228);
axis(d3.axisBottom, xDi, dInsetTicks, dInsetTicks.map(fmt), "translate(0,228)", { fs: 8, textY: 16 });
axis(d3.axisTop, xDi, dInsetTicks, null, "translate(0,181)");
axis(d3.axisLeft, yDi, dInsetTicks, dInsetTicks.map(fmt), "translate(325,0)", { fs: 8, textX: -6 });
axis(d3.axisRight, yDi, dInsetTicks, null, "translate(384,0)");
</script>
</body>
</html>
